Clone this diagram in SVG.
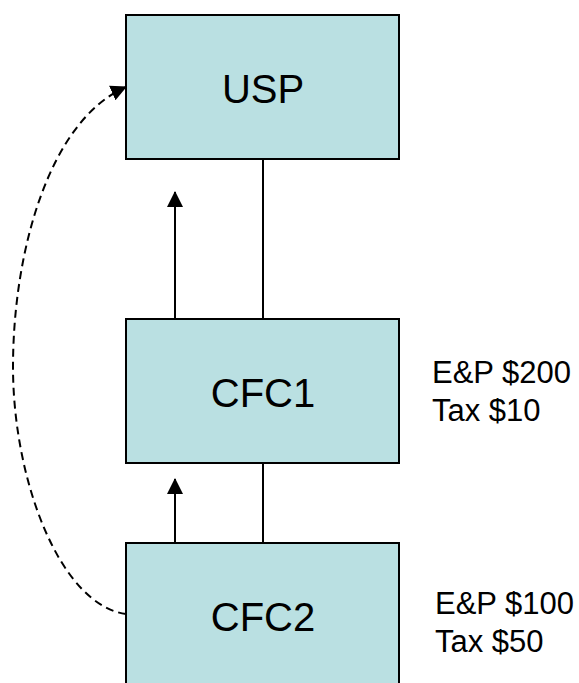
<svg xmlns="http://www.w3.org/2000/svg" width="579" height="683" viewBox="0 0 579 683">
  <style>
    .box { fill: #BAE0E2; stroke: #000; stroke-width: 2; }
    .name { font-family: "Liberation Sans", Arial, sans-serif; font-size: 40px; fill: #000; text-anchor: middle; }
    .note { font-family: "Liberation Sans", Arial, sans-serif; font-size: 31px; fill: #000; }
    .link { stroke: #000; stroke-width: 2; fill: none; }
    .flow { stroke: #000; stroke-width: 2; fill: none; marker-end: url(#head); }
    .dash { stroke: #000; stroke-width: 2; fill: none; stroke-dasharray: 8 5; marker-end: url(#head); }
  </style>
  <defs>
    <marker id="head" viewBox="0 0 16 16" refX="15" refY="8" markerWidth="16" markerHeight="16" markerUnits="userSpaceOnUse" orient="auto">
      <path d="M0,0 L16,8 L0,16 Z" fill="#000"/>
    </marker>
  </defs>

  <g id="connectors">
    <line class="link" x1="263" y1="159" x2="263" y2="319"/>
    <line class="link" x1="263" y1="463" x2="263" y2="543"/>
    <line class="flow" x1="175" y1="319" x2="175" y2="192"/>
    <line class="flow" x1="175" y1="543" x2="175" y2="479"/>
    <path class="dash" d="M126,614 C60,605 13,480 13,367 C13,250 50,120 126,87"/>
  </g>

  <g id="usp">
    <rect class="box" x="126" y="15" width="273" height="144"/>
    <text class="name" x="263" y="103">USP</text>
  </g>

  <g id="cfc1">
    <rect class="box" x="126" y="319" width="273" height="144"/>
    <text class="name" x="263" y="407">CFC1</text>
  </g>

  <g id="cfc1-note">
    <text class="note" x="432" y="383">E&amp;P $200</text>
    <text class="note" x="432" y="421">Tax $10</text>
  </g>

  <g id="cfc2">
    <rect class="box" x="126" y="543" width="273" height="160"/>
    <text class="name" x="263" y="631">CFC2</text>
  </g>

  <g id="cfc2-note">
    <text class="note" x="435" y="614">E&amp;P $100</text>
    <text class="note" x="435" y="652">Tax $50</text>
  </g>
</svg>
